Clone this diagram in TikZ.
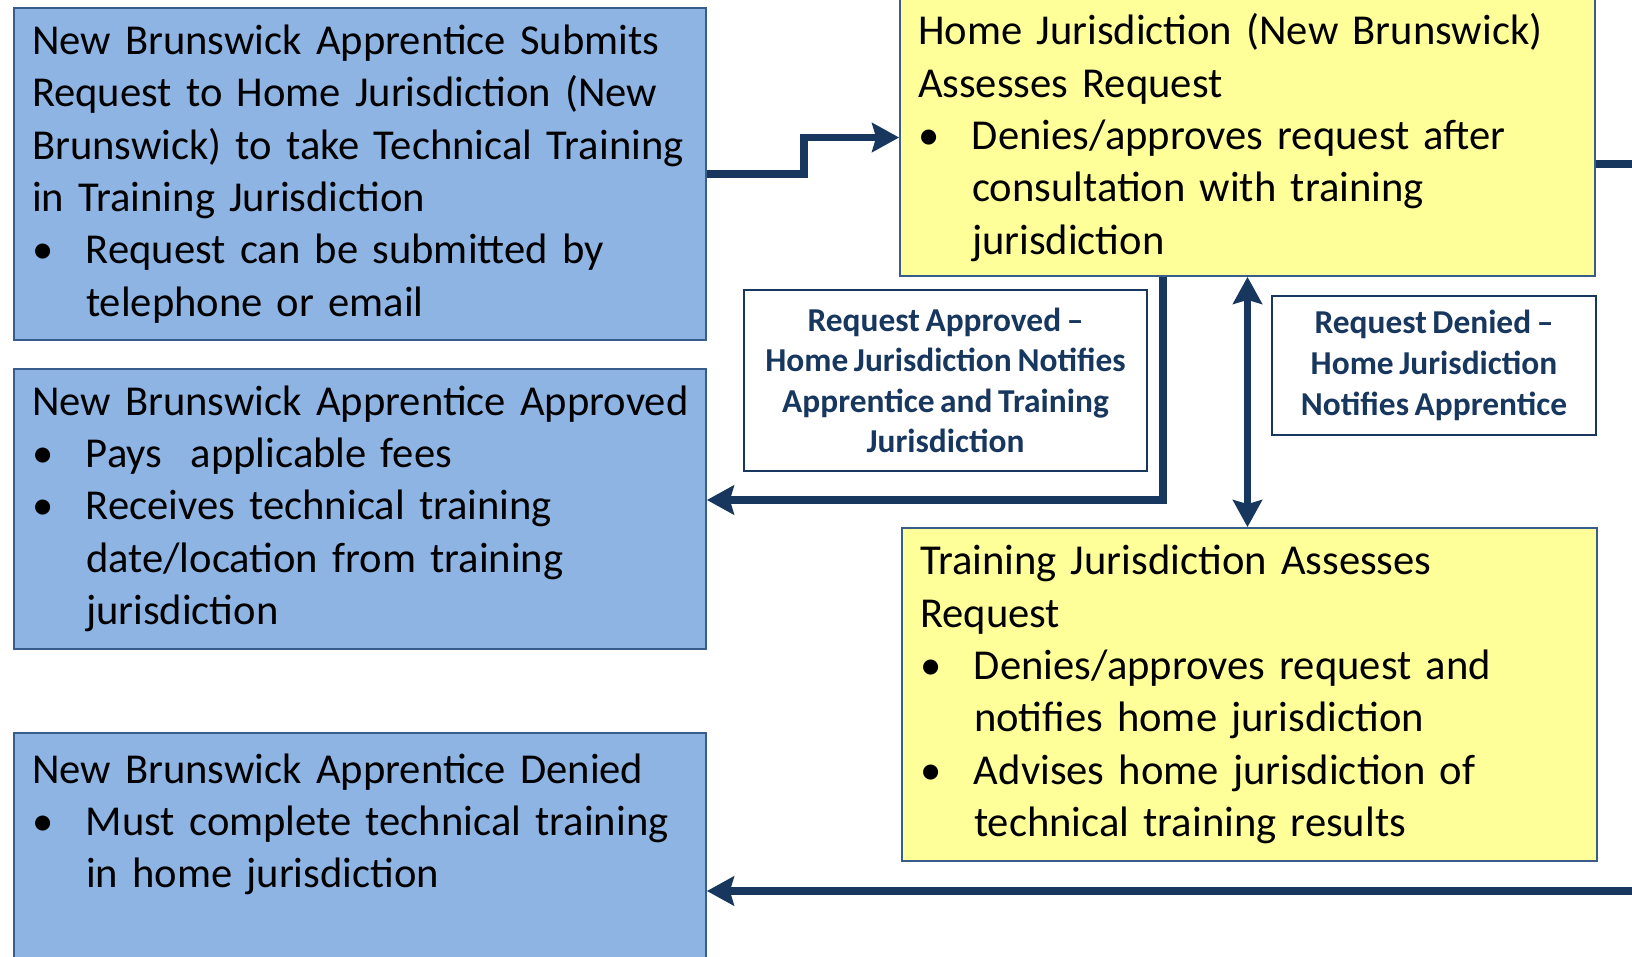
\documentclass[tikz,border=0pt]{standalone}
\usepackage{fontspec}
\setmainfont{Carlito}[WordSpace=0.75]
\usepackage{xcolor}
\usetikzlibrary{arrows.meta,calc,positioning}
\definecolor{navy}{RGB}{23,55,94}
\definecolor{paleblue}{RGB}{142,180,227}
\definecolor{paleyellow}{RGB}{255,255,153}
\definecolor{boxline}{RGB}{56,93,138}
\newcommand{\bul}[1]{\par\hangindent=54pt\hangafter=0\noindent\llap{\makebox[54pt][l]{\textbullet}}#1\par}
\newcommand{\boxsetup}{\raggedright\leftskip=22pt\relax\hyphenpenalty=10000\relax}
\tikzset{%
	bluebox/.style    = {draw=boxline, line width=1.8pt, fill=paleblue, rectangle, text width=700pt, inner xsep=-4pt, inner ysep=8pt, minimum width=692pt, execute at begin node=\boxsetup, font=\fontsize{42.6}{52.3}\selectfont},
	yellowbox/.style  = {bluebox, fill=paleyellow, text width=703pt, minimum width=695pt},
	notebox/.style    = {draw=navy, line width=2pt, fill=white, rectangle, align=center, text=navy, font=\fontsize{33.4}{40.6}\selectfont\bfseries},
	flow/.style       = {draw=navy, line width=7.5pt, -{Stealth[length=27pt,width=29pt,inset=4pt]}},
	flowboth/.style   = {flow, {Stealth[length=27pt,width=29pt,inset=4pt]}-{Stealth[length=27pt,width=29pt,inset=4pt]}},
	plainline/.style  = {draw=navy, line width=7.5pt},
}

\begin{document}
\begin{tikzpicture}[x=1pt, y=-1pt]
	\useasboundingbox (0,0) rectangle (1632,957);
	% apprentice side
	\node[bluebox, minimum height=332pt] (submit) at (360,174) {New Brunswick Apprentice Submits\newline Request to Home Jurisdiction (New\newline Brunswick) to take Technical Training\newline in Training Jurisdiction
		\bul{Request can be submitted by\newline telephone or email}};
	\node[bluebox, minimum height=280pt, below=27pt of submit] (approved) {New Brunswick Apprentice Approved
		\bul{Pays~ applicable fees}
		\bul{Receives technical training\newline date/location from training\newline jurisdiction}};
	\node[bluebox, inner ysep=21pt, text depth=300pt, below=82pt of approved] (denied) {New Brunswick Apprentice Denied
		\bul{Must complete technical training\newline in home jurisdiction}};
	% jurisdiction side
	\node[yellowbox, minimum height=277pt] (home) at (1247.5,137.5) {Home Jurisdiction (New Brunswick)\newline Assesses Request
		\bul{Denies/approves request after\newline consultation with training\newline jurisdiction}};
	\node[yellowbox, minimum height=333pt] (training) at (1249.5,694.5) {Training Jurisdiction Assesses\newline Request
		\bul{Denies/approves request and\newline notifies home jurisdiction}
		\bul{Advises home jurisdiction of\newline technical training results}};
	\node[notebox, minimum width=403pt, minimum height=181pt] (okNote) at (945.5,380.5) {Request Approved --\\ Home Jurisdiction Notifies\\ Apprentice and Training\\ Jurisdiction};
	\node[notebox, minimum width=324pt, minimum height=139pt] (noNote) at (1434,365.5) {Request Denied --\\ Home Jurisdiction\\ Notifies Apprentice};
	\coordinate (dropA) at (1163,500);
	\coordinate (offA) at (1640,164);
	\coordinate (offB) at (1640,891);
	\draw[flow] (submit.east) -- ++(97,0) |- (home.west);
	\draw[flow] (home.south -| dropA) |- (approved.east |- dropA);
	\draw[flowboth] (home.south) -- (home.south |- training.north);
	\draw[plainline] (home.east |- offA) -- (offA);
	\draw[flow] (offB) -- (denied.east |- offB);
\end{tikzpicture}
\end{document}
